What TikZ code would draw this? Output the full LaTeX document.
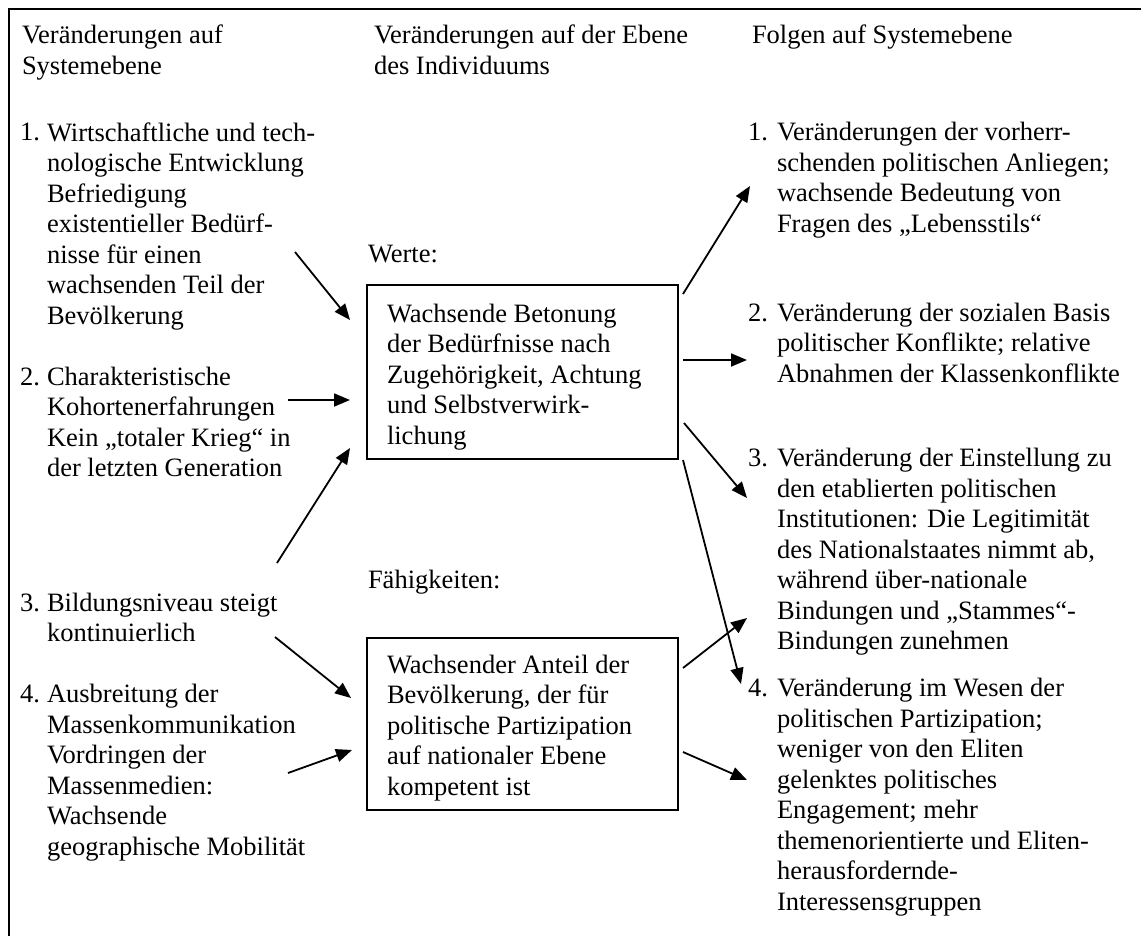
\documentclass[tikz,border=0pt]{standalone}
\usepackage{fontspec}
\setmainfont{Liberation Serif}
\usetikzlibrary{arrows.meta}
\begin{document}
\begin{tikzpicture}[x=1pt,y=-1pt,
  font=\fontsize{26.5pt}{30.5pt}\selectfont,
  txt/.style={anchor=north west,inner sep=0pt,outer sep=0pt,align=left,yshift=21.35pt},
  boxn/.style={draw,line width=2pt,inner sep=0pt,minimum width=311pt},
  arr/.style={line width=1.8pt,-{Triangle[length=16pt,width=13pt]}},
  frame/.style={line width=2.6pt}]
\useasboundingbox (0,0) rectangle (1141,936);
\draw[frame] (9,936) -- (9,9) -- (1141,9);

% left column
\node[txt] (lh) at (22,44) {\strut Veränderungen auf\\Systemebene};
\node[txt] (l1n) at (20,141) {\strut 1.};
\node[txt] (l1) at (47,141) {\strut Wirtschaftliche und tech-\\nologische Entwicklung\\Befriedigung\\existentieller Bedürf-\\nisse für einen\\wachsenden Teil der\\Bevölkerung};
\node[txt] (l2n) at (20,385) {\strut 2.};
\node[txt] (l2) at (47,385) {\strut Charakteristische\\Kohortenerfahrungen\\Kein „totaler Krieg“ in\\der letzten Generation};
\node[txt] (l3n) at (20,611) {\strut 3.};
\node[txt] (l3) at (47,611) {\strut Bildungsniveau steigt\\kontinuierlich};
\node[txt] (l4n) at (20,702.5) {\strut 4.};
\node[txt] (l4) at (47,702.5) {\strut Ausbreitung der\\Massenkommunikation\\Vordringen der\\Massenmedien:\\Wachsende\\geographische Mobilität};

% middle column
\node[txt] (mh) at (374,44) {\strut Veränderungen auf der Ebene\\des Individuums};
\node[txt] (werte) at (368,263) {\strut Werte:};
\node[boxn,minimum height=174pt] (box1) at (522.5,372) {};
\node[txt] (box1t) at (387,322) {\strut Wachsende Betonung\\der Bedürfnisse nach\\Zugehörigkeit, Achtung\\und Selbstverwirk-\\lichung};
\node[txt] (faeh) at (368,588) {\strut Fähigkeiten:};
\node[boxn,minimum height=172pt] (box2) at (522.5,724) {};
\node[txt] (box2t) at (387,673) {\strut Wachsender Anteil der\\Bevölkerung, der für\\politische Partizipation\\auf nationaler Ebene\\kompetent ist};

% right column
\node[txt] (rh) at (752,44) {\strut Folgen auf Systemebene};
\node[txt] (r1n) at (748,141) {\strut 1.};
\node[txt] (r1) at (777,141) {\strut Veränderungen der vorherr-\\schenden politischen Anliegen;\\wachsende Bedeutung von\\Fragen des „Lebensstils“};
\node[txt] (r2n) at (748,321) {\strut 2.};
\node[txt] (r2) at (777,321) {\strut Veränderung der sozialen Basis\\politischer Konflikte; relative\\Abnahmen der Klassenkonflikte};
\node[txt] (r3n) at (748,466.5) {\strut 3.};
\node[txt] (r3) at (777,466.5) {\strut Veränderung der Einstellung zu\\den etablierten politischen\\Institutionen: Die Legitimität\\des Nationalstaates nimmt ab,\\während über-nationale\\Bindungen und „Stammes“-\\Bindungen zunehmen};
\node[txt] (r4n) at (748,696.5) {\strut 4.};
\node[txt] (r4) at (777,696.5) {\strut Veränderung im Wesen der\\politischen Partizipation;\\weniger von den Eliten\\gelenktes politisches\\Engagement; mehr\\themenorientierte und Eliten-\\herausfordernde-\\Interessensgruppen};

% arrow end points
\coordinate (a1s) at (295,252); \coordinate (a1t) at (350,320);
\coordinate (a2s) at (288,400); \coordinate (a2t) at (350,400);
\coordinate (a3s) at (277,563); \coordinate (a3t) at (350,448);
\coordinate (a4s) at (275,637); \coordinate (a4t) at (351,698);
\coordinate (a5s) at (288,773); \coordinate (a5t) at (352,750);
\coordinate (b1s) at (683,294); \coordinate (b1t) at (750,186);
\coordinate (b2s) at (683,360); \coordinate (b2t) at (747,360);
\coordinate (b3s) at (684,423); \coordinate (b3t) at (747,498);
\coordinate (b4s) at (683,460); \coordinate (b4t) at (741,684);
\coordinate (b5s) at (683,668); \coordinate (b5t) at (747,618);
\coordinate (b6s) at (683,752); \coordinate (b6t) at (747,780);

\draw[arr] (a1s) -- (a1t);
\draw[arr] (a2s) -- (a2t);
\draw[arr] (a3s) -- (a3t);
\draw[arr] (a4s) -- (a4t);
\draw[arr] (a5s) -- (a5t);
\draw[arr] (b1s) -- (b1t);
\draw[arr] (b2s) -- (b2t);
\draw[arr] (b3s) -- (b3t);
\draw[arr] (b4s) -- (b4t);
\draw[arr] (b5s) -- (b5t);
\draw[arr] (b6s) -- (b6t);
\end{tikzpicture}
\end{document}
